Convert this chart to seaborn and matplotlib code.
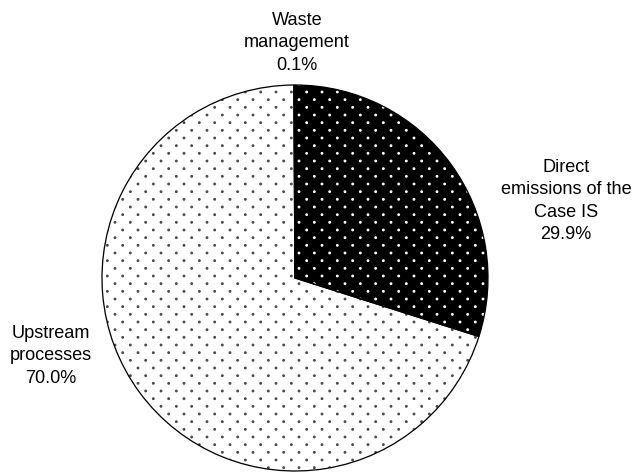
import numpy as np
import matplotlib
matplotlib.use("Agg")
import matplotlib.pyplot as plt
from matplotlib import hatch as mhatch
from matplotlib.path import Path
import seaborn as sns

# Share of total emissions by source
categories = ["Direct\nemissions of the\nCase IS", "Upstream\nprocesses", "Waste\nmanagement"]
shares = [29.9, 70.0, 0.1]
face_colors = ["black", "white", "white"]
dot_colors = ["white", "#4a4a4a", "#4a4a4a"]


class DiamondDots(mhatch.HatchPatternBase):
    """Small filled dots on a diagonal (diamond) lattice, used for '.'."""
    size = 0.11

    def __init__(self, hatch, density):
        self.num_rows = hatch.count('.') * 2 * density
        circ = Path.unit_circle()
        self.shape_vertices = circ.vertices
        self.shape_codes = circ.codes
        if self.num_rows == 0:
            self.num_shapes = 0
            self.num_vertices = 0
            return
        half = self.num_rows // 2
        self.num_shapes = (half + 1) * (half + 1) + half * half
        self.num_vertices = self.num_shapes * len(self.shape_vertices)

    def set_vertices_and_codes(self, vertices, codes):
        step = 1.0 / self.num_rows
        half = self.num_rows // 2
        shape = self.shape_vertices * step * self.size
        vparts, cparts = [], []
        for row in range(self.num_rows + 1):
            if row % 2 == 0:
                cols = np.linspace(0, 1, half + 1)
            else:
                cols = np.linspace(step, 1 - step, half)
            for c in cols:
                vparts.append(shape + [c, row * step])
                cparts.append(self.shape_codes)
        np.concatenate(vparts, out=vertices)
        np.concatenate(cparts, out=codes)


mhatch._hatch_types = [t for t in mhatch._hatch_types
                       if t is not mhatch.SmallFilledCircles] + [DiamondDots]

sns.set_theme(style="white")
plt.rcParams["font.family"] = ["Liberation Sans", "DejaVu Sans"]
plt.rcParams["hatch.linewidth"] = 0.9

W, H, DPI = 635, 475, 92
fig = plt.figure(figsize=(W / DPI, H / DPI), dpi=DPI)
ax = fig.add_axes([0, 0, 1, 1])

# pie geometry in pixels: centre and radius
cx, cy, r = 295, 196, 193

wedges, _ = ax.pie(shares, startangle=90, counterclock=False, radius=1,
                   center=(0, 0), frame=True)
for w, fc, dc in zip(wedges, face_colors, dot_colors):
    w.set_facecolor(fc)
    w.set_edgecolor(dc)
    w.set_linewidth(0)
    w.set_hatch(".")

# outline drawn from the same values
ax.pie(shares, startangle=90, counterclock=False, radius=1,
       center=(0, 0), frame=True,
       wedgeprops=dict(fill=False, edgecolor="black", linewidth=1.0))

ax.set_xlim(-cx / r, (W - cx) / r)
ax.set_ylim(-cy / r, (H - cy) / r)
ax.set_aspect("auto")
ax.set_axis_off()


def px(x, y_top):
    return (x - cx) / r, ((H - y_top) - cy) / r


label_pos = [px(566, 201), px(51, 356), px(297, 43)]
for name, val, (lx, ly) in zip(categories, shares, label_pos):
    ax.text(lx, ly, f"{name}\n{val:.1f}%", ha="center", va="center",
            fontsize=14.2, color="black", linespacing=1.4)

fig.savefig("out.png", dpi=DPI, facecolor="white")
